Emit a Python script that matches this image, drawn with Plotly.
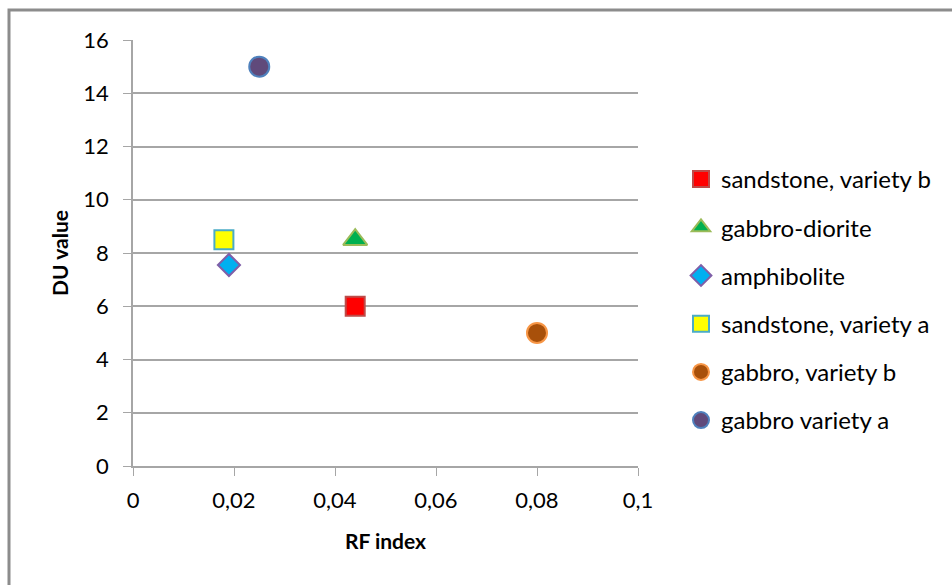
import plotly.graph_objects as go

names = ["sandstone, variety b", "gabbro-diorite", "amphibolite",
         "sandstone, variety a", "gabbro, variety b", "gabbro variety a"]
rf_index = [0.044, 0.044, 0.019, 0.018, 0.080, 0.025]
du_value = [6.0, 8.5, 7.55, 8.5, 5.0, 15.0]
symbols = ["square", "triangle-up", "diamond", "square", "circle", "circle"]
fills = ["#FF0000", "#00B050", "#00B0F0", "#FFFF00", "#A8500A", "#604A7B"]
borders = ["#BE4B48", "#9BBB59", "#7F5FA8", "#4BACC6", "#F79646", "#4F81BD"]
sizes = [19, 21, 17, 19, 20, 20]

x_ticks = [0, 0.02, 0.04, 0.06, 0.08, 0.1]
y_ticks = [0, 2, 4, 6, 8, 10, 12, 14, 16]

W, H = 952, 585
L, R, T, B = 133, 638, 40, 466

fig = go.Figure()
for i in range(len(names)):
    fig.add_trace(go.Scatter(
        x=[rf_index[i]], y=[du_value[i]], mode="markers", name=names[i],
        legendgroup=f"g{i}",
        marker=dict(symbol=symbols[i], size=sizes[i], color=fills[i],
                    line=dict(color=borders[i], width=2)),
    ))

font_family = "Lato, 'Open Sans', sans-serif"
pw, ph = R - L, B - T

fig.update_layout(
    width=W, height=H,
    margin=dict(l=L, r=W - R, t=T, b=H - B),
    paper_bgcolor="white", plot_bgcolor="white",
    separators=",.",
    font=dict(family=font_family, size=22, color="#000000"),
    showlegend=True,
    legend=dict(x=(681 - L) / pw, y=(B - 157) / ph, xanchor="left", yanchor="top",
                tracegroupgap=14, font=dict(size=24, family=font_family),
                itemsizing="trace"),
    xaxis=dict(range=[0, 0.1], tickvals=x_ticks, tickformat=".2~f",
               showgrid=False, zeroline=False, showline=True,
               linecolor="#A6A6A6", linewidth=1.5,
               ticks="outside", ticklen=8, tickcolor="#A6A6A6",
               tickfont=dict(size=22), ticklabelstandoff=6,
               title=dict(text="<b>RF index</b>", font=dict(size=21), standoff=22)),
    yaxis=dict(range=[0, 16], tickvals=y_ticks,
               showgrid=True, gridcolor="#A6A6A6", gridwidth=1.5,
               zeroline=False, showline=True,
               linecolor="#A6A6A6", linewidth=1.5,
               ticks="outside", ticklen=8, tickcolor="#A6A6A6",
               tickfont=dict(size=22), ticklabelstandoff=10,
               title=dict(text="<b>DU value</b>", font=dict(size=21), standoff=9)),
)

fig.add_shape(type="rect", xref="paper", yref="paper",
              x0=(9 - L) / pw, x1=(W + 20 - L) / pw,
              y0=(B - (H + 20)) / ph, y1=(B - 10) / ph,
              line=dict(color="#8C8C8C", width=3), layer="below")

fig.write_html("out.html")
